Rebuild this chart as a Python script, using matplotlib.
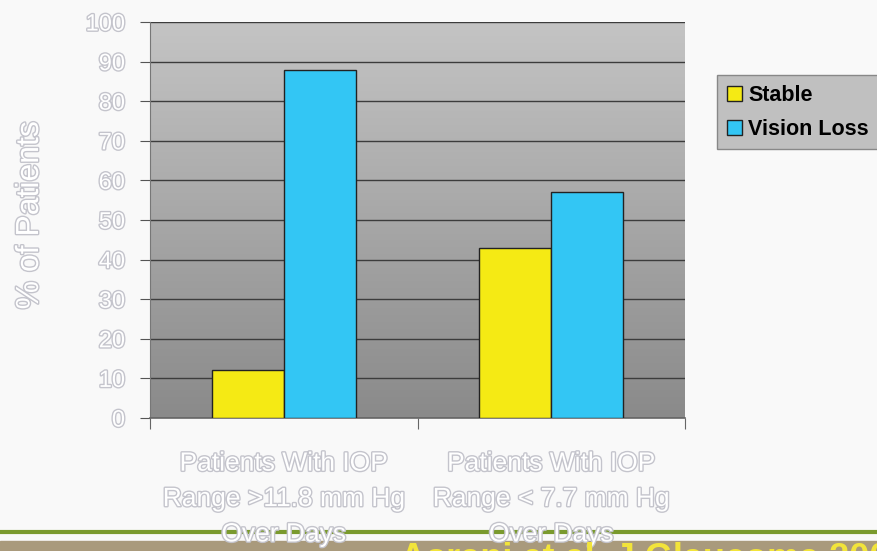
import matplotlib
matplotlib.use("Agg")
import matplotlib.pyplot as plt
import matplotlib.patheffects as pe
import numpy as np

categories = ["Patients With IOP\nRange >11.8 mm Hg\nOver Days",
              "Patients With IOP\nRange < 7.7 mm Hg\nOver Days"]
stable = [12, 43]
vision_loss = [88, 57]
yticks = list(range(0, 101, 10))

plt.rcParams["font.family"] = ["Liberation Sans", "DejaVu Sans"]

fig = plt.figure(figsize=(8.77, 5.51), dpi=100, facecolor="#f9f9f9")
W, H = 877, 551
ax = fig.add_axes([150 / W, 1 - 418 / H, (685 - 150) / W, (418 - 22) / H])

# vertical gray gradient behind the bars
grad = np.linspace(0, 1, 256).reshape(-1, 1)
ax.imshow(grad, extent=[0, 1, 0, 1], transform=ax.transAxes, aspect="auto",
          cmap=matplotlib.colors.LinearSegmentedColormap.from_list(
              "bg", ["#c4c4c4", "#8a8a8a"]),
          zorder=0, interpolation="bicubic")

x = np.arange(len(categories))
bw = 0.27
ax.bar(x - bw / 2, stable, bw, color="#f5ea14", edgecolor="#222222",
       linewidth=1.0, zorder=3, label="Stable")
ax.bar(x + bw / 2, vision_loss, bw, color="#33c6f4", edgecolor="#222222",
       linewidth=1.0, zorder=3, label="Vision Loss")

ax.set_xlim(-0.5, 1.5)
ax.set_ylim(0, 100)
ax.set_yticks(yticks)
ax.yaxis.grid(True, color="#3c3c3c", linewidth=1.0, zorder=1)
ax.set_axisbelow(True)
for s in ["top", "right"]:
    ax.spines[s].set_visible(False)
ax.spines["left"].set_color("#777777")
ax.spines["bottom"].set_color("#666666")
ax.spines["bottom"].set_linewidth(1.2)

outline = [pe.withStroke(linewidth=2.0, foreground="#c4c4cc")]
ax.set_yticklabels([str(t) for t in yticks], fontsize=17, color="white",
                   path_effects=outline)
ax.tick_params(axis="y", length=7, color="#555555", pad=11)
ax.set_xticks([-0.5, 0.5, 1.5])
ax.set_xticklabels([])
ax.tick_params(axis="x", length=8, color="#666666")
for xi, lab in zip(x, categories):
    ax.text(xi, -8.5, lab, ha="center", va="top", fontsize=19, color="white",
            linespacing=1.6, path_effects=outline, zorder=5, clip_on=False)

fig.text(30 / W, 1 - 215 / H, "% of Patients", rotation=90, ha="center",
         va="center", fontsize=23, color="white", path_effects=outline)

# legend
leg = fig.legend(loc="upper left", bbox_to_anchor=(717 / W, 1 - 75 / H),
                 frameon=True, fancybox=False,
                 prop={"weight": "bold", "size": 15.5}, handlelength=0.7,
                 handleheight=0.7, handletextpad=0.3, borderpad=0.45,
                 labelspacing=0.6, borderaxespad=0)
leg.get_frame().set_facecolor("#c0c0c0")
leg.get_frame().set_edgecolor("#888888")
leg.get_frame().set_alpha(1)

# footer strip
fig.add_artist(plt.Line2D([0, 1], [1 - 532 / H, 1 - 532 / H],
                          color="#7a9a2e", linewidth=3, zorder=0))
fig.add_artist(plt.Rectangle((0, 0), 1, 1 - 541 / H, color="#a99a7c",
                             transform=fig.transFigure, zorder=0))
fig.text(400 / W, 1 - 541 / H, "Asrani et al. J Glaucoma 2000;9:134", color="#f2e43a",
         fontsize=26, fontweight="bold", va="top", ha="left", zorder=1)

fig.savefig("out.png", dpi=100, facecolor=fig.get_facecolor())
